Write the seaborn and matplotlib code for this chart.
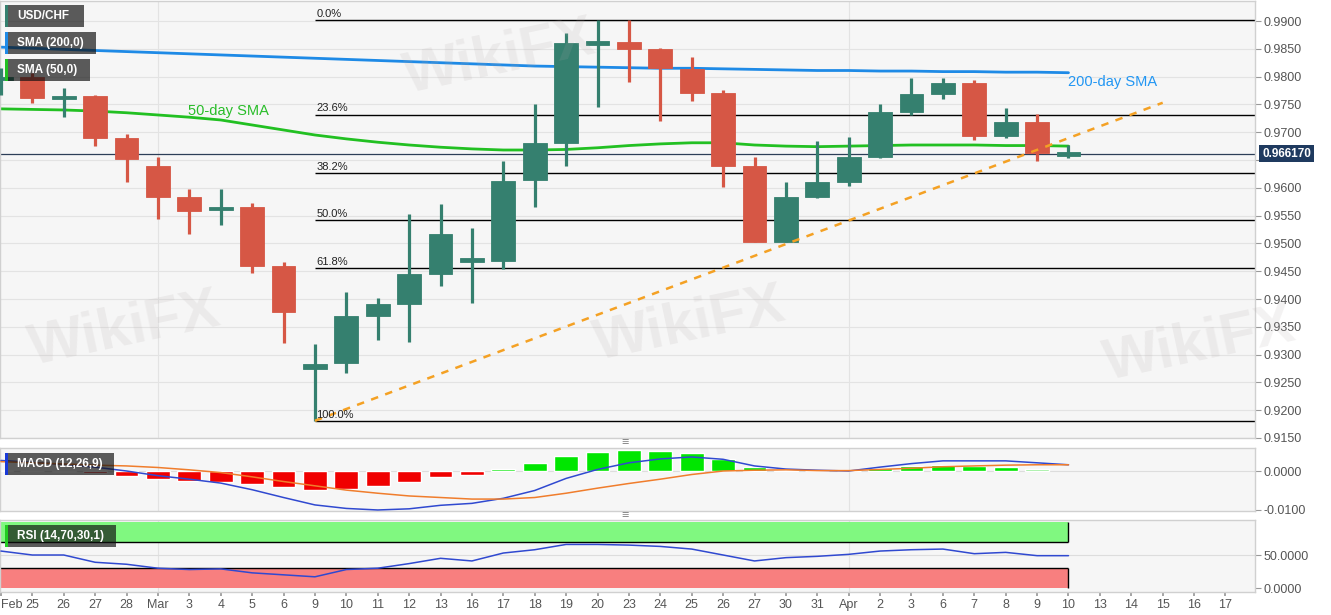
import numpy as np
import pandas as pd
import matplotlib
matplotlib.use("Agg")
import matplotlib.pyplot as plt
from matplotlib.patches import Rectangle
import seaborn as sns

# x axis: trading days Feb 24 - Apr 17 2020 (only up to Apr 10 has data)
tick_labels = ["Feb", "25", "26", "27", "28", "Mar", "3", "4", "5", "6",
               "9", "10", "11", "12", "13", "16", "17", "18", "19", "20",
               "23", "24", "25", "26", "27", "30", "31", "Apr", "2", "3",
               "6", "7", "8", "9", "10", "13", "14", "15", "16", "17"]

# daily USD/CHF candles, Feb 24 - Apr 10
opens = [0.9795, 0.9800, 0.9761, 0.9765, 0.9689, 0.9639, 0.9584, 0.9561, 0.9566, 0.9459,
         0.9275, 0.9285, 0.9370, 0.9391, 0.9445, 0.9466, 0.9469, 0.9614, 0.9680, 0.9859,
         0.9862, 0.9849, 0.9814, 0.9771, 0.9639, 0.9503, 0.9584, 0.9611, 0.9655, 0.9737,
         0.9769, 0.9788, 0.9694, 0.9719, 0.9660]
highs = [0.9815, 0.9806, 0.9779, 0.9767, 0.9696, 0.9655, 0.9598, 0.9598, 0.9572, 0.9466,
         0.9319, 0.9412, 0.9402, 0.9553, 0.9571, 0.9527, 0.9649, 0.9750, 0.9878, 0.9902,
         0.9901, 0.9852, 0.9835, 0.9776, 0.9655, 0.9611, 0.9685, 0.9691, 0.9750, 0.9797,
         0.9797, 0.9794, 0.9743, 0.9732, 0.9677]
lows = [0.9767, 0.9752, 0.9728, 0.9675, 0.9610, 0.9544, 0.9517, 0.9533, 0.9447, 0.9320,
        0.9181, 0.9267, 0.9327, 0.9323, 0.9424, 0.9393, 0.9454, 0.9566, 0.9639, 0.9745,
        0.9790, 0.9720, 0.9756, 0.9602, 0.9503, 0.9502, 0.9581, 0.9603, 0.9653, 0.9731,
        0.9759, 0.9686, 0.9689, 0.9648, 0.9653]
closes = [0.9799, 0.9762, 0.9765, 0.9689, 0.9651, 0.9584, 0.9559, 0.9565, 0.9460, 0.9376,
          0.9283, 0.9370, 0.9391, 0.9445, 0.9517, 0.9474, 0.9612, 0.9680, 0.9861, 0.9862,
          0.9849, 0.9816, 0.9771, 0.9639, 0.9503, 0.9584, 0.9611, 0.9655, 0.9736, 0.9768,
          0.9788, 0.9694, 0.9719, 0.9662, 0.96617]

sma200 = [0.9853, 0.9851, 0.9849, 0.9847, 0.9845, 0.9843, 0.9841, 0.9839, 0.9837, 0.9835,
          0.9833, 0.9831, 0.9829, 0.9827, 0.9825, 0.9823, 0.9821, 0.9819, 0.9818, 0.9817,
          0.9816, 0.9815, 0.9815, 0.9814, 0.9813, 0.9812, 0.9811, 0.9811, 0.9810, 0.9810,
          0.9809, 0.9809, 0.9808, 0.9808, 0.9807]
sma50 = [0.9742, 0.9741, 0.9740, 0.9738, 0.9735, 0.9731, 0.9727, 0.9722, 0.9713, 0.9704,
         0.9695, 0.9688, 0.9682, 0.9677, 0.9673, 0.9670, 0.9668, 0.9668, 0.9669, 0.9672,
         0.9676, 0.9679, 0.9681, 0.9681, 0.9677, 0.9675, 0.9674, 0.9675, 0.9676, 0.9677,
         0.9677, 0.9677, 0.9676, 0.9676, 0.9675]

macd_hist = [0.0003, 0.0001, -0.0002, -0.0006, -0.0013, -0.0021, -0.0026, -0.0028, -0.0033, -0.0041,
             -0.0049, -0.0045, -0.0038, -0.0029, -0.0015, -0.0009, 0.0005, 0.0020, 0.0039, 0.0050,
             0.0054, 0.0051, 0.0045, 0.0030, 0.0011, 0.0002, 0.0001, 0.0000, 0.0007, 0.0013,
             0.0016, 0.0013, 0.0011, 0.0005, np.nan]
macd_line = [0.0027, 0.0022, 0.0017, 0.0010, 0.0000, -0.0012, -0.0021, -0.0031, -0.0048, -0.0068,
             -0.0087, -0.0096, -0.0100, -0.0097, -0.0088, -0.0083, -0.0070, -0.0050, -0.0019, 0.0004,
             0.0021, 0.0031, 0.0036, 0.0030, 0.0013, 0.0005, 0.0002, 0.0000, 0.0010, 0.0019,
             0.0026, 0.0026, 0.0026, 0.0021, 0.0016]
macd_signal = [0.0024, 0.0021, 0.0018, 0.0015, 0.0013, 0.0009, 0.0003, -0.0004, -0.0015, -0.0027,
               -0.0038, -0.0049, -0.0057, -0.0064, -0.0068, -0.0072, -0.0072, -0.0068, -0.0057, -0.0044,
               -0.0032, -0.0021, -0.0009, 0.0000, 0.0002, 0.0003, 0.0001, 0.0001, 0.0004, 0.0007,
               0.0011, 0.0013, 0.0015, 0.0016, 0.0016]

rsi = [56, 50, 50, 39, 36, 30, 28, 29, 23, 20,
       17, 28, 30, 37, 45, 41, 53, 58, 66, 66,
       65, 63, 59, 50, 41, 46, 48, 51, 56, 58,
       59, 52, 54, 49, 49]

# Fibonacci retracement of the Mar 9 low -> Mar 20 high move
fib_high = 0.9902
fib_low = 0.9181
fib_start_day = 10
fib_levels = [0.0, 23.6, 38.2, 50.0, 61.8, 100.0]

# support line from Mar 9 low through Mar 30 low
trend_days = [10, 37]
trend_prices = [0.9181, 0.9753]

last_price = 0.966170

df = pd.DataFrame({"day": np.arange(len(opens)), "open": opens, "high": highs,
                   "low": lows, "close": closes, "sma200": sma200, "sma50": sma50,
                   "hist": macd_hist, "macd": macd_line, "signal": macd_signal, "rsi": rsi})

W, H = 1331, 615
up_color, down_color = "#35806f", "#d65745"
bg = "#f6f6f6"
grid_c = "#e3e3e3"

sns.set_theme(style="whitegrid")
plt.rcParams["font.family"] = ["Liberation Sans", "DejaVu Sans"]

fig = plt.figure(figsize=(W / 100, H / 100), dpi=100)
ax = fig.add_axes([0.0, 1 - 438 / H, 1255 / W, 437 / H])
ax_macd = fig.add_axes([0.0, 1 - 511 / H, 1255 / W, 63 / H], sharex=ax)
ax_rsi = fig.add_axes([0.0, 1 - 592 / H, 1255 / W, 72 / H], sharex=ax)

for a in (ax, ax_macd, ax_rsi):
    a.set_facecolor(bg)
    a.grid(False)
    a.yaxis.tick_right()
    a.tick_params(axis="y", right=True, length=4, width=0.8, color="#999999",
                  pad=2, labelsize=9, labelcolor="#555555")
    for s in a.spines.values():
        s.set_color("#d0d0d0")
        s.set_linewidth(1)
    # month separators
    for d in (5, 27):
        a.axvline(d, color=grid_c, lw=0.8, zorder=0)

ax.set_xlim(-0.03, 39.94)

# ---- main price panel
yt = np.arange(0.915, 0.9901, 0.005)
ax.set_yticks(yt)
ax.set_yticklabels([f"{v:.4f}" for v in yt])
ax.set_ylim(0.9150, 0.9936)
for v in yt:
    ax.axhline(v, color=grid_c, lw=0.8, zorder=0)

for lvl in fib_levels:
    p = fib_high - (fib_high - fib_low) * lvl / 100
    ax.hlines(p, fib_start_day, 40, color="black", lw=1, zorder=1)
    ax.text(fib_start_day + 0.05, p + 0.0002, f"{lvl:.1f}%", fontsize=8,
            color="#222222", va="bottom", ha="left", zorder=6)

ax.axhline(last_price, color="#2c3e57", lw=0.9, zorder=1)

sns.lineplot(data=df, x="day", y="sma200", ax=ax, color="#1e8ae6", lw=2, zorder=2, legend=False)
sns.lineplot(data=df, x="day", y="sma50", ax=ax, color="#22c022", lw=2, zorder=2, legend=False)

up = df["close"] >= df["open"]
colors = np.where(up, up_color, down_color)
ax.vlines(df["day"], df["low"], df["high"], color=colors, lw=2.3, zorder=3)
body = np.maximum((df["close"] - df["open"]).abs(), 0.0006)
mid = (df["close"] + df["open"]) / 2
ax.bar(df["day"], body, bottom=mid - body / 2, width=0.76, color=colors,
       edgecolor=colors, lw=0.6, zorder=4)

ax.plot(trend_days, trend_prices, ls=(0, (3, 3)), color="#f4a124", lw=1.8, zorder=5)

ax.text(34, 0.9790, "200-day SMA", color="#2196f3", fontsize=10.5, va="center", ha="left")
ax.text(5.96, 0.9738, "50-day SMA", color="#29bd29", fontsize=10.5, va="center", ha="left")

# the live price tag sits over the 0.9650 tick label, as on the original
for lbl, v in zip(ax.get_yticklabels(), yt):
    if abs(v - 0.965) < 1e-6:
        lbl.set_visible(False)
ax.text(1.0056, last_price, f"{last_price:.6f}", transform=ax.get_yaxis_transform(),
        color="white", fontsize=8.5, fontweight="bold", va="center", ha="left",
        bbox=dict(boxstyle="square,pad=0.25", fc="#1f3a5f", ec="none"), clip_on=False, zorder=10)

# ---- MACD panel
ax_macd.set_ylim(-0.01026, 0.0059)
ax_macd.set_yticks([-0.01, 0.0])
ax_macd.set_yticklabels(["-0.0100", "0.0000"])
ax_macd.axhline(0, color="#dddddd", lw=0.8, zorder=0)
hist = df.dropna(subset=["hist"])
hcol = np.where(hist["hist"] >= 0, "#00e600", "#f00000")
hcol[-1] = "#7fe87f"
ax_macd.bar(hist["day"], hist["hist"], width=0.76, color=hcol, zorder=2)
sns.lineplot(data=df, x="day", y="macd", ax=ax_macd, color="#3049d0", lw=1.1, zorder=3, legend=False)
sns.lineplot(data=df, x="day", y="signal", ax=ax_macd, color="#f07d2c", lw=1.1, zorder=3, legend=False)

# ---- RSI panel
ax_rsi.set_ylim(-6, 103)
ax_rsi.set_yticks([0, 50])
ax_rsi.set_yticklabels(["0.0000", "50.0000"])
ax_rsi.axhline(50, color="#dddddd", lw=0.8, zorder=0)
last_day = df["day"].iloc[-1]
ax_rsi.fill_between([-1, last_day], 70, 100, color="#80f880", lw=0, zorder=1)
ax_rsi.fill_between([-1, last_day], 0, 30, color="#f87f7f", lw=0, zorder=1)
ax_rsi.hlines([70, 30], -1, last_day, color="black", lw=1, zorder=2)
ax_rsi.vlines(last_day, 70, 100, color="black", lw=1, zorder=2)
ax_rsi.vlines(last_day, 0, 30, color="black", lw=1, zorder=2)
sns.lineplot(data=df, x="day", y="rsi", ax=ax_rsi, color="#3049d0", lw=1.1, zorder=3, legend=False)

for a in (ax, ax_macd, ax_rsi):
    a.set_xlabel("")
    a.set_ylabel("")
ax.tick_params(axis="x", bottom=False, labelbottom=False)
ax_macd.tick_params(axis="x", bottom=False, labelbottom=False)
ax_rsi.set_xticks(range(len(tick_labels)))
ax_rsi.set_xticklabels(tick_labels)
ax_rsi.tick_params(axis="x", bottom=True, length=3, color="#999999", pad=2,
                   labelsize=9, labelcolor="#555555")
ax_rsi.get_xticklabels()[0].set_horizontalalignment("left")
ax_rsi.set_xlim(-0.03, 39.94)


def label_box(x0, y0, x1, y1, text, bar_color):
    fig.patches.append(Rectangle((x0 / W, 1 - y1 / H), (x1 - x0) / W, (y1 - y0) / H,
                                 transform=fig.transFigure, fc="#101010", alpha=0.68,
                                 ec="none", zorder=20))
    fig.patches.append(Rectangle((x0 / W, 1 - y1 / H), 2.5 / W, (y1 - y0) / H,
                                 transform=fig.transFigure, fc=bar_color, ec="none", zorder=21))
    fig.text((x0 + 12) / W, 1 - (y0 + y1) / 2 / H, text, color="white", fontsize=8.5,
             fontweight="bold", va="center", ha="left", zorder=22)


label_box(5, 5, 84, 27, "USD/CHF", up_color)
label_box(5, 32, 96, 54, "SMA (200,0)", "#1e8ae6")
label_box(5, 59, 90, 81, "SMA (50,0)", "#22c022")
label_box(5, 453, 114, 475, "MACD (12,26,9)", "#1a3ad8")
label_box(5, 525, 116, 547, "RSI (14,70,30,1)", "#22cc22")

# pane separators
for yy in (443, 516):
    fig.text(625 / W, 1 - yy / H, "\u2261", color="#888888", fontsize=9, ha="center", va="center")

# faint watermarks
for (wx, wy) in [(125, 330), (690, 325), (1200, 345), (500, 58)]:
    fig.text(wx / W, 1 - wy / H, "WikiFX", color="#b0a8a8", alpha=0.15, fontsize=42,
             fontweight="bold", rotation=12, ha="center", va="center", zorder=0)

fig.savefig("out.png", dpi=100, facecolor="white")
